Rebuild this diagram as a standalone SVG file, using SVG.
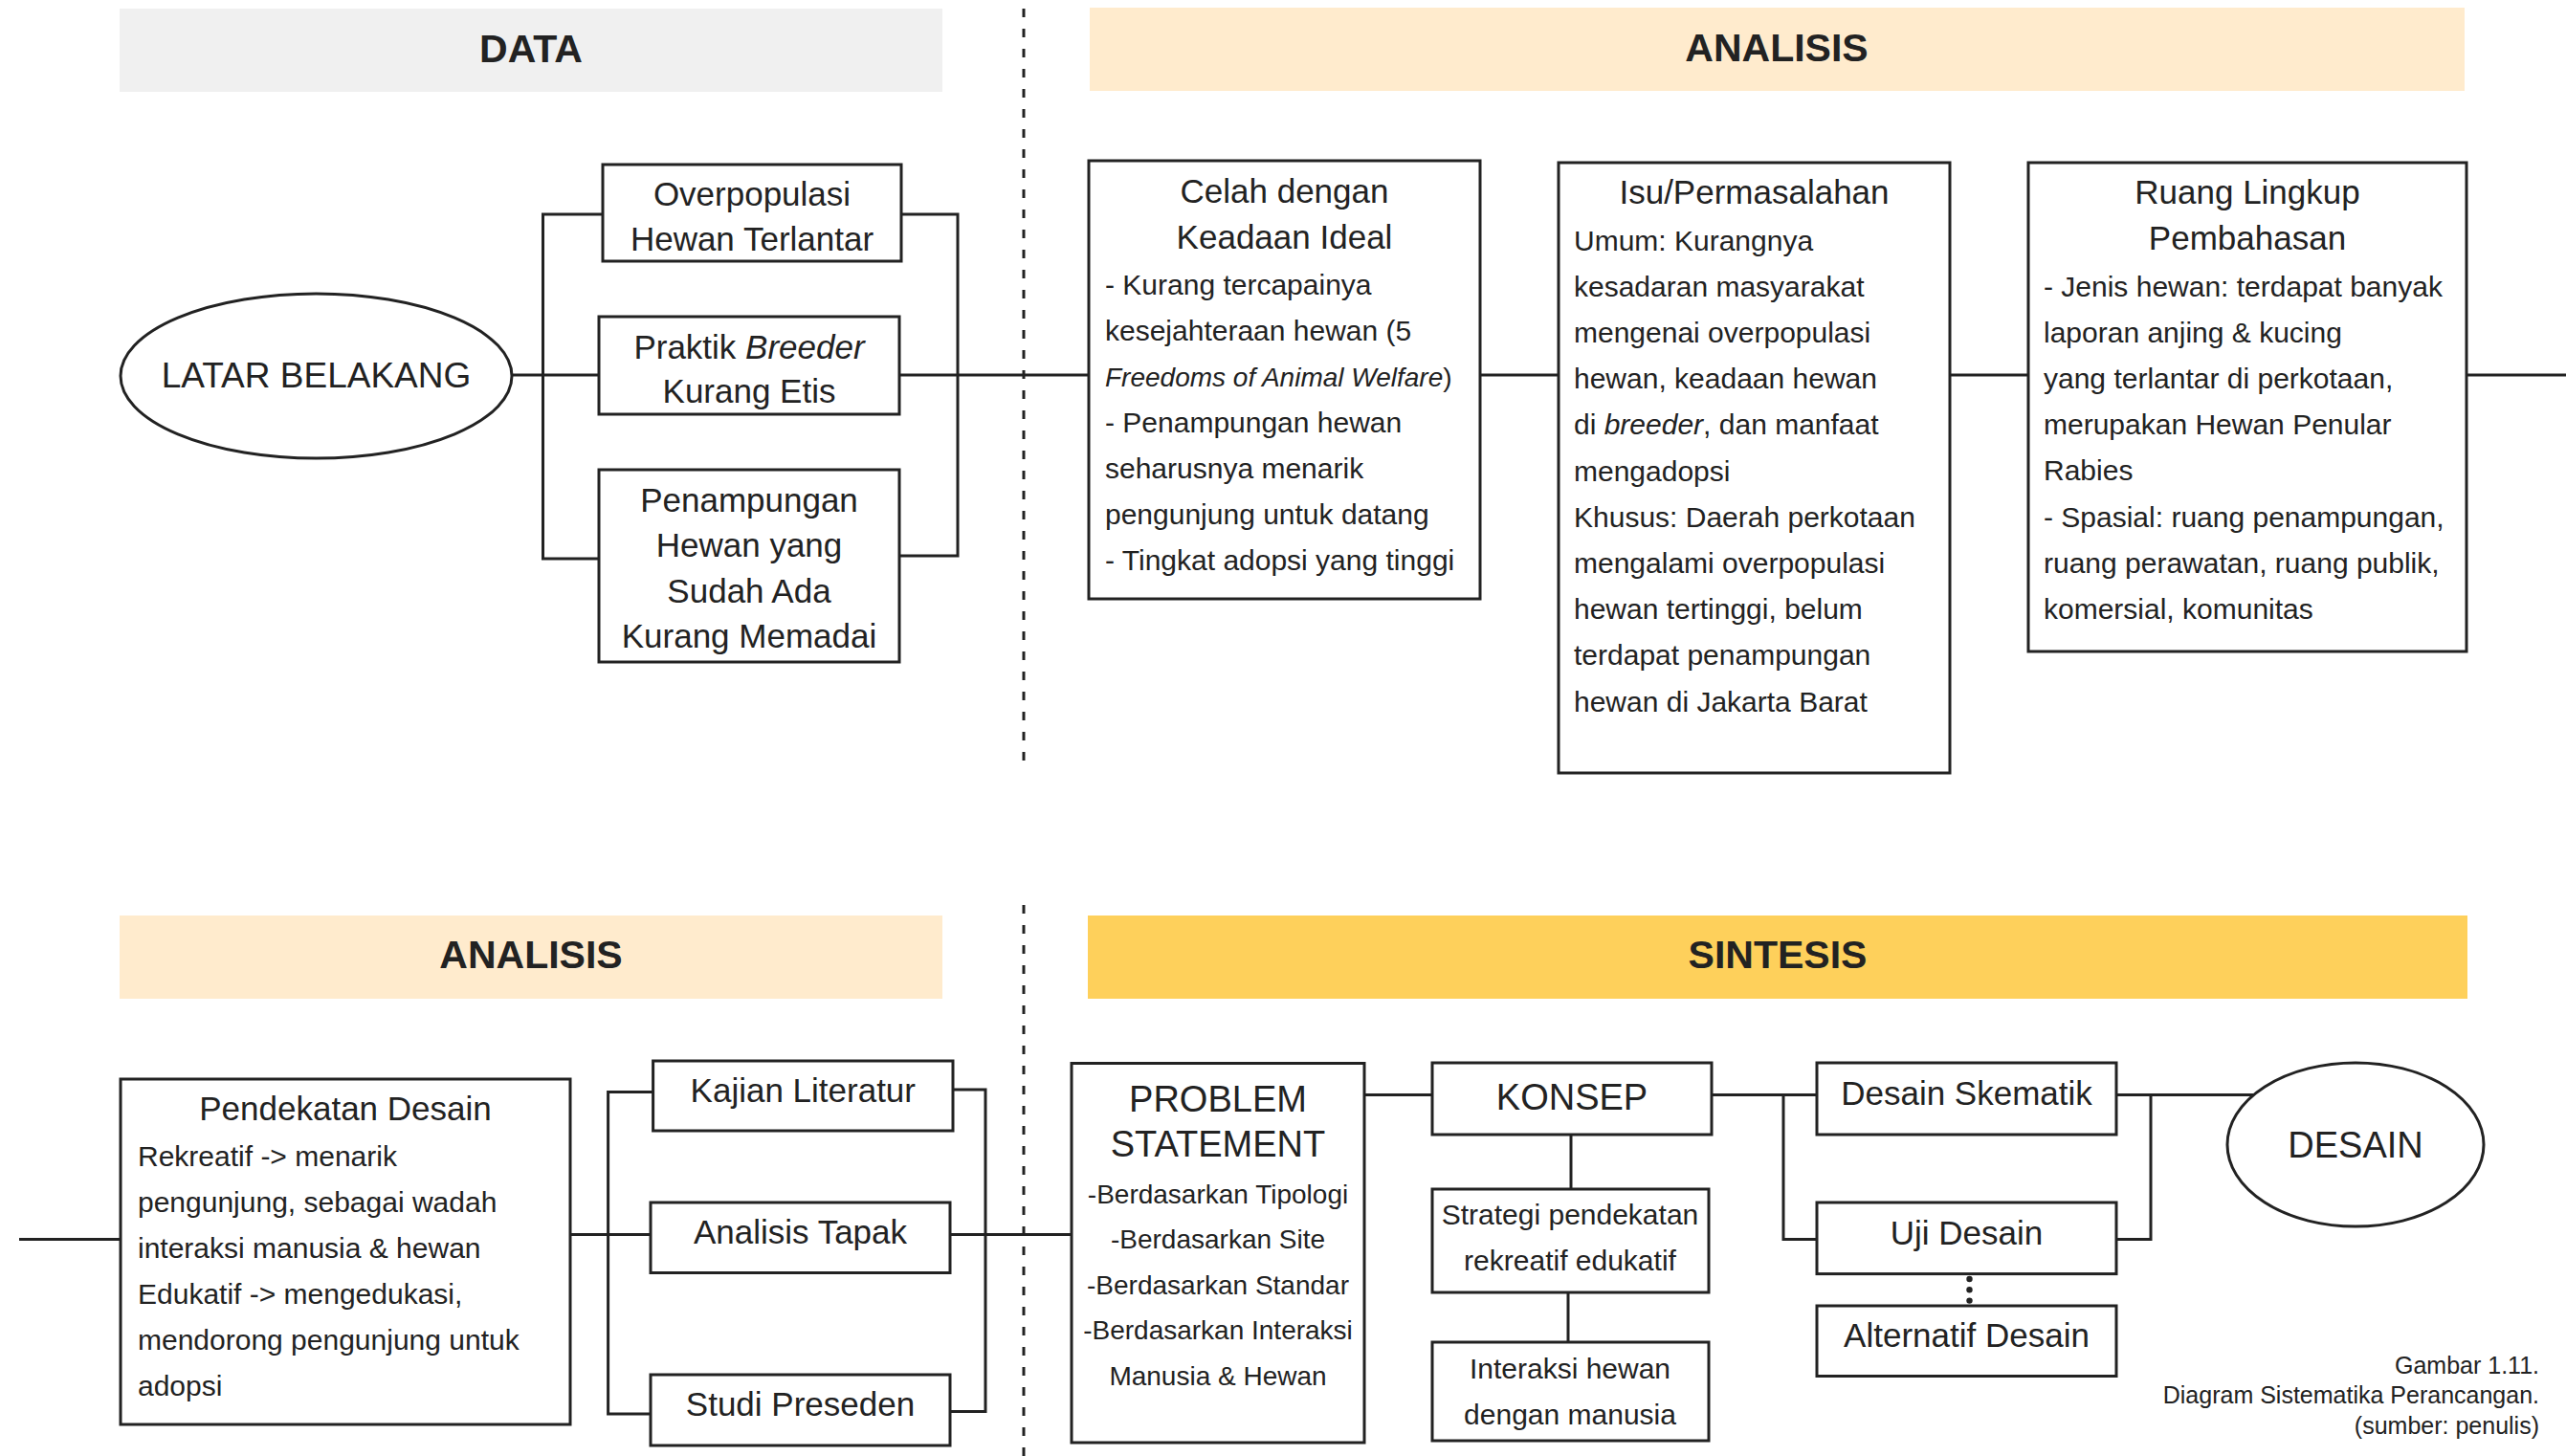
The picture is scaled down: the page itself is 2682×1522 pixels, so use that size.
<svg xmlns="http://www.w3.org/2000/svg" width="2682" height="1522" viewBox="0 0 2682 1522">
<style>
text{font-family:'Liberation Sans',Arial,sans-serif;fill:#222}
.box{fill:#fff;stroke:#222;stroke-width:3}
.ln{fill:none;stroke:#222;stroke-width:3}
.dash{fill:none;stroke:#222;stroke-width:3;stroke-dasharray:9 12}
.hd{font-size:41px;font-weight:bold;text-anchor:middle}
.tt{font-size:35px;text-anchor:middle}
.bd{font-size:30px}
.ps{font-size:28px;text-anchor:middle}
.big{font-size:38px;text-anchor:middle}
.cap{font-size:25px;text-anchor:end}
.it{font-style:italic}
</style>
<rect width="2682" height="1522" fill="#fff"/>

<g id="headers">
<g id="h-data"><rect x="125" y="9" width="860" height="87" fill="#f0f0f0"/><text class="hd" x="555" y="65">DATA</text></g>
<g id="h-analisis1"><rect x="1139" y="8" width="1437" height="87" fill="#ffebcd"/><text class="hd" x="1857" y="64">ANALISIS</text></g>
<g id="h-analisis2"><rect x="125" y="957" width="860" height="87" fill="#ffebcd"/><text class="hd" x="555" y="1012">ANALISIS</text></g>
<g id="h-sintesis"><rect x="1137" y="957" width="1442" height="87" fill="#fed05b"/><text class="hd" x="1858" y="1012">SINTESIS</text></g>
</g>

<g id="dividers">
<line class="dash" x1="1070" y1="9" x2="1070" y2="806"/>
<line class="dash" x1="1070" y1="946" x2="1070" y2="1522"/>
</g>

<g id="connectors">
<line class="ln" x1="535" y1="392" x2="626" y2="392"/>
<path class="ln" d="M630,224 H567.5 V584 H626"/>
<path class="ln" d="M942,224 H1001 V581 H940"/>
<line class="ln" x1="940" y1="392" x2="1138" y2="392"/>
<line class="ln" x1="1547" y1="392" x2="1629" y2="392"/>
<line class="ln" x1="2038" y1="392" x2="2120" y2="392"/>
<line class="ln" x1="2578" y1="392" x2="2682" y2="392"/>

<line class="ln" x1="20" y1="1295.5" x2="126" y2="1295.5"/>
<line class="ln" x1="596" y1="1290.5" x2="680" y2="1290.5"/>
<path class="ln" d="M682.6,1141.6 H635.6 V1478 H680"/>
<path class="ln" d="M996,1139 H1030 V1475.6 H993"/>
<line class="ln" x1="993" y1="1290.5" x2="1120" y2="1290.5"/>
<line class="ln" x1="1426" y1="1144.5" x2="1497" y2="1144.5"/>
<line class="ln" x1="1642" y1="1186" x2="1642" y2="1243"/>
<line class="ln" x1="1639" y1="1351" x2="1639" y2="1403"/>
<line class="ln" x1="1789" y1="1144.5" x2="1899" y2="1144.5"/>
<path class="ln" d="M1864,1144.5 V1295.6 H1899"/>
<path class="ln" d="M2212,1295.6 H2248 V1144.5"/>
<line class="ln" x1="2212" y1="1144.5" x2="2356" y2="1144.5"/>
<circle cx="2058.5" cy="1337" r="3.2" fill="#222"/>
<circle cx="2058.5" cy="1348.3" r="3.2" fill="#222"/>
<circle cx="2058.5" cy="1359.6" r="3.2" fill="#222"/>
</g>

<g id="latar-belakang">
<ellipse class="box" cx="330.5" cy="393" rx="204.5" ry="86"/>
<text class="tt" x="330.5" y="405" style="font-size:37px">LATAR BELAKANG</text>
</g>

<g id="overpopulasi">
<rect class="box" x="630" y="172" width="312" height="101"/>
<text class="tt" x="786" y="214.5">Overpopulasi</text>
<text class="tt" x="786" y="261.5">Hewan Terlantar</text>
</g>

<g id="praktik-breeder">
<rect class="box" x="626" y="331" width="314" height="102"/>
<text class="tt" x="783" y="375">Praktik <tspan class="it">Breeder</tspan></text>
<text class="tt" x="783" y="421">Kurang Etis</text>
</g>

<g id="penampungan">
<rect class="box" x="626" y="491" width="314" height="201"/>
<text class="tt" x="783" y="534.5">Penampungan</text>
<text class="tt" x="783" y="582">Hewan yang</text>
<text class="tt" x="783" y="629.5">Sudah Ada</text>
<text class="tt" x="783" y="677">Kurang Memadai</text>
</g>

<g id="celah">
<rect class="box" x="1138" y="168" width="409" height="458"/>
<text class="tt" x="1342.5" y="212">Celah dengan</text>
<text class="tt" x="1342.5" y="260">Keadaan Ideal</text>
<text class="bd" x="1155" y="308">- Kurang tercapainya</text>
<text class="bd" x="1155" y="356">kesejahteraan hewan (5</text>
<text class="bd" x="1155" y="404" style="font-size:28px"><tspan class="it">Freedoms of Animal Welfare</tspan>)</text>
<text class="bd" x="1155" y="452">- Penampungan hewan</text>
<text class="bd" x="1155" y="500">seharusnya menarik</text>
<text class="bd" x="1155" y="548">pengunjung untuk datang</text>
<text class="bd" x="1155" y="596">- Tingkat adopsi yang tinggi</text>
</g>

<g id="isu">
<rect class="box" x="1629" y="170" width="409" height="638"/>
<text class="tt" x="1833.5" y="213">Isu/Permasalahan</text>
<text class="bd" x="1645" y="261.5">Umum: Kurangnya</text>
<text class="bd" x="1645" y="309.7">kesadaran masyarakat</text>
<text class="bd" x="1645" y="357.9">mengenai overpopulasi</text>
<text class="bd" x="1645" y="406.1">hewan, keadaan hewan</text>
<text class="bd" x="1645" y="454.3">di <tspan class="it">breeder</tspan>, dan manfaat</text>
<text class="bd" x="1645" y="502.5">mengadopsi</text>
<text class="bd" x="1645" y="550.7">Khusus: Daerah perkotaan</text>
<text class="bd" x="1645" y="598.9">mengalami overpopulasi</text>
<text class="bd" x="1645" y="647.1">hewan tertinggi, belum</text>
<text class="bd" x="1645" y="695.3">terdapat penampungan</text>
<text class="bd" x="1645" y="743.5">hewan di Jakarta Barat</text>
</g>

<g id="ruang-lingkup">
<rect class="box" x="2120" y="170" width="458" height="511"/>
<text class="tt" x="2349" y="213">Ruang Lingkup</text>
<text class="tt" x="2349" y="260.5">Pembahasan</text>
<text class="bd" x="2136" y="309.6">- Jenis hewan: terdapat banyak</text>
<text class="bd" x="2136" y="357.8">laporan anjing &amp; kucing</text>
<text class="bd" x="2136" y="406">yang terlantar di perkotaan,</text>
<text class="bd" x="2136" y="454.2">merupakan Hewan Penular</text>
<text class="bd" x="2136" y="502.4">Rabies</text>
<text class="bd" x="2136" y="550.6">- Spasial: ruang penampungan,</text>
<text class="bd" x="2136" y="598.8">ruang perawatan, ruang publik,</text>
<text class="bd" x="2136" y="647">komersial, komunitas</text>
</g>

<g id="pendekatan-desain">
<rect class="box" x="126" y="1128" width="470" height="361"/>
<text class="tt" x="361" y="1171">Pendekatan Desain</text>
<text class="bd" x="144" y="1219">Rekreatif -&gt; menarik</text>
<text class="bd" x="144" y="1267">pengunjung, sebagai wadah</text>
<text class="bd" x="144" y="1315">interaksi manusia &amp; hewan</text>
<text class="bd" x="144" y="1363">Edukatif -&gt; mengedukasi,</text>
<text class="bd" x="144" y="1411">mendorong pengunjung untuk</text>
<text class="bd" x="144" y="1459">adopsi</text>
</g>

<g id="kajian-literatur">
<rect class="box" x="682.6" y="1109" width="313.4" height="73"/>
<text class="tt" x="839.3" y="1152">Kajian Literatur</text>
</g>

<g id="analisis-tapak">
<rect class="box" x="680" y="1257" width="313" height="73.5"/>
<text class="tt" x="836.5" y="1300">Analisis Tapak</text>
</g>

<g id="studi-preseden">
<rect class="box" x="680" y="1437" width="313" height="74"/>
<text class="tt" x="836.5" y="1480">Studi Preseden</text>
</g>

<g id="problem-statement">
<rect class="box" x="1120" y="1111.5" width="306" height="396.5"/>
<text class="big" x="1273" y="1161.6">PROBLEM</text>
<text class="big" x="1273" y="1209">STATEMENT</text>
<text class="ps" x="1273" y="1257.5">-Berdasarkan Tipologi</text>
<text class="ps" x="1273" y="1305">-Berdasarkan Site</text>
<text class="ps" x="1273" y="1352.7">-Berdasarkan Standar</text>
<text class="ps" x="1273" y="1400.3">-Berdasarkan Interaksi</text>
<text class="ps" x="1273" y="1447.9">Manusia &amp; Hewan</text>
</g>

<g id="konsep">
<rect class="box" x="1497" y="1111" width="292" height="75"/>
<text class="big" x="1643" y="1160">KONSEP</text>
</g>

<g id="strategi">
<rect class="box" x="1497" y="1243" width="289" height="108"/>
<text class="bd" x="1641" y="1279.6" text-anchor="middle">Strategi pendekatan</text>
<text class="bd" x="1641" y="1328" text-anchor="middle">rekreatif edukatif</text>
</g>

<g id="interaksi">
<rect class="box" x="1497" y="1403" width="289" height="103"/>
<text class="bd" x="1641" y="1441" text-anchor="middle">Interaksi hewan</text>
<text class="bd" x="1641" y="1488.6" text-anchor="middle">dengan manusia</text>
</g>

<g id="desain-skematik">
<rect class="box" x="1899" y="1111" width="313" height="75"/>
<text class="tt" x="2055.5" y="1154.5">Desain Skematik</text>
</g>

<g id="uji-desain">
<rect class="box" x="1899" y="1257" width="313" height="74.6"/>
<text class="tt" x="2055.5" y="1300.8">Uji Desain</text>
</g>

<g id="alternatif-desain">
<rect class="box" x="1899" y="1365" width="313" height="73.5"/>
<text class="tt" x="2055.5" y="1408.4">Alternatif Desain</text>
</g>

<g id="desain">
<ellipse class="box" cx="2462" cy="1196.5" rx="134" ry="85.6"/>
<text class="big" x="2462" y="1210">DESAIN</text>
</g>

<g id="caption">
<text class="cap" x="2654" y="1435.5">Gambar 1.11.</text>
<text class="cap" x="2654" y="1467">Diagram Sistematika Perancangan.</text>
<text class="cap" x="2654" y="1498.6">(sumber: penulis)</text>
</g>
</svg>
